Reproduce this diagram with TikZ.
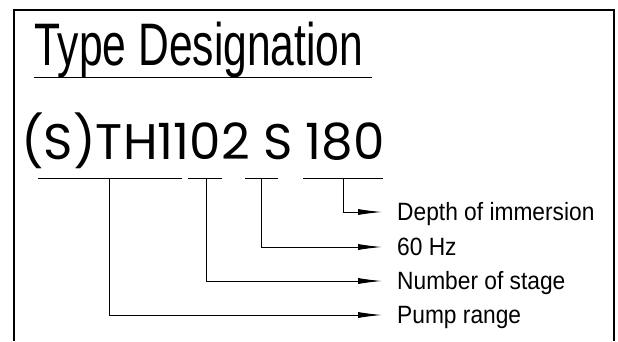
\documentclass[tikz,border=0pt]{standalone}
\usepackage{fontspec}
\usetikzlibrary{arrows.meta}
\newfontfamily\titlefont[FakeStretch=0.71]{Liberation Sans}
\newfontfamily\labelfont[FakeStretch=0.91]{Liberation Sans}
\newfontfamily\codefont{Poppins}

\begin{document}
\begin{tikzpicture}[x=1pt, y=-1pt,
  frame/.style={line width=2pt},
  lead/.style={line width=0.9pt},
  pointer/.style={line width=0.9pt, -{Latex[length=24pt, width=6pt]}},
  legend/.style={font=\labelfont\fontsize{25}{25}\selectfont, anchor=west, inner sep=0pt, text height=17pt, text depth=0pt}]
\useasboundingbox (0,0) rectangle (618,341);
\draw [frame] (14,341) -- (14,10) -- (614,10) -- (614,341);
\node [anchor=base west, inner sep=0pt, font=\titlefont\fontsize{60}{60}\selectfont] (title) at (34,65) {Type Designation};
\draw [lead] (34,77) -- (372,77);
\node [anchor=base west, inner sep=0pt, font=\codefont\fontsize{50}{50}\selectfont] (code) at (21,159) {(S)TH1102 S 180};
% underlines of the code
\draw [lead] (38,178) -- (182,178);
\draw [lead] (188,178) -- (222,178);
\draw [lead] (245,178) -- (278,178);
\draw [lead] (303,178) -- (383,178);
\coordinate (range) at (109,178);
\coordinate (stage) at (206,178);
\coordinate (freq) at (261,178);
\coordinate (depth) at (343,178);
% legends
\node [legend] (depthtxt) at (397,212) {Depth of immersion};
\node [legend] (freqtxt) at (397,247) {60 Hz};
\node [legend] (stagetxt) at (397,281) {Number of stage};
\node [legend] (rangetxt) at (397,315) {Pump range};
\draw [pointer] (depth) |- ([xshift=-15pt]depthtxt.west);
\draw [pointer] (freq) |- ([xshift=-15pt]freqtxt.west);
\draw [pointer] (stage) |- ([xshift=-15pt]stagetxt.west);
\draw [pointer] (range) |- ([xshift=-15pt]rangetxt.west);
\end{tikzpicture}
\end{document}
